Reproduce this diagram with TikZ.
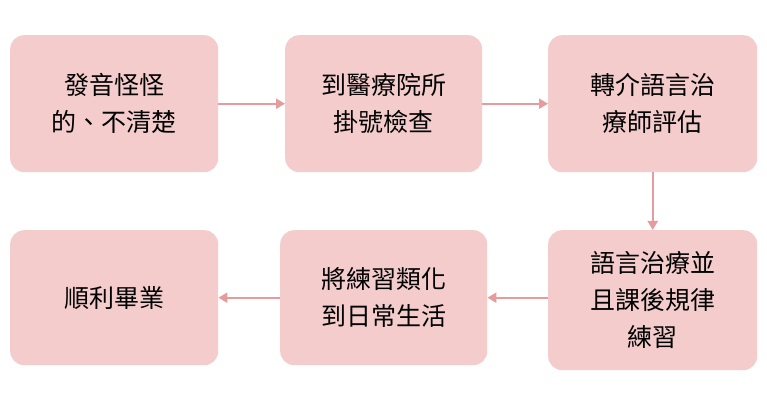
\documentclass[tikz,border=0pt]{standalone}
\usepackage{fontspec}
\newfontfamily\cjk{Noto Sans CJK TC}
\usetikzlibrary{arrows.meta}
\definecolor{boxfill}{HTML}{F4CCCC}
\definecolor{arr}{HTML}{E59C9C}
\tikzset{
 box/.style={fill=boxfill,rounded corners=14pt,minimum width=208pt,minimum height=137pt,font=\cjk\fontsize{25}{37}\selectfont,align=center,text=black,anchor=north west,inner sep=0pt},
 conn/.style={draw=arr,line width=2pt,-{Triangle[length=9pt,width=10pt]}}
}
\begin{document}
\begin{tikzpicture}[x=1pt,y=1pt]
\useasboundingbox[fill=white] (0,0) rectangle (767,403);
\node[box] (b1) at (10,368) {發音怪怪\\的、不清楚};
\node[box,minimum width=197pt] (b2) at (285,368) {到醫療院所\\掛號檢查};
\node[box,minimum width=209pt] (b3) at (548,368) {轉介語言治\\療師評估};
\node[box,minimum width=209pt,minimum height=140pt] (b4) at (548,173) {語言治療並\\且課後規律\\練習};
\node[box,minimum width=207pt,minimum height=135pt] (b5) at (280,173) {將練習類化\\到日常生活};
\node[box,minimum height=135pt] (b6) at (10,173) {順利畢業};
\draw[conn] (b1.east) -- (b2.west);
\draw[conn] (b2.east) -- (b3.west);
\draw[conn] (b3.south) -- (b4.north);
\draw[conn] (b4.west |- b5.east) -- (b5.east);
\draw[conn] (b5.west) -- (b6.east);
\end{tikzpicture}
\end{document}
